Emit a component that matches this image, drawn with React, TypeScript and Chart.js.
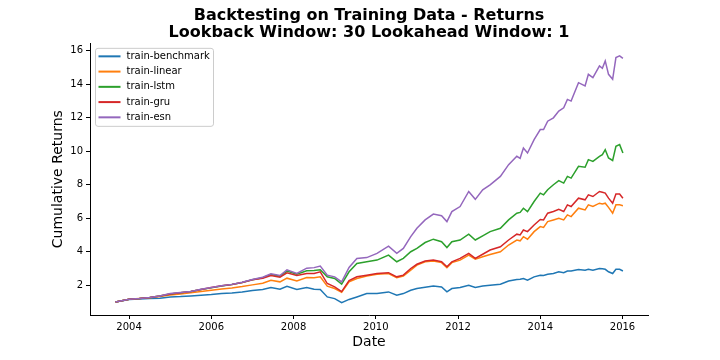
import React, { useEffect, useRef } from "react";
import { Chart, registerables } from "chart.js";

Chart.register(...registerables);

// Dates as decimal years (approximate sampling of the monthly series)
const dates = [
  2003.67, 2004.0, 2004.25, 2004.5, 2004.75, 2005.0, 2005.25, 2005.5, 2005.75, 2006.0,
  2006.25, 2006.5, 2006.75, 2007.0, 2007.25, 2007.45, 2007.67, 2007.84, 2008.08, 2008.32,
  2008.5, 2008.65, 2008.82, 2009.0, 2009.17, 2009.35, 2009.54, 2009.78, 2010.03, 2010.31,
  2010.51, 2010.67, 2010.85, 2011.0, 2011.2, 2011.4, 2011.6, 2011.73, 2011.85, 2012.05,
  2012.26, 2012.42, 2012.6, 2012.78, 2013.03, 2013.23, 2013.43, 2013.51, 2013.59, 2013.69,
  2013.85, 2014.0, 2014.08, 2014.18, 2014.32, 2014.45, 2014.57, 2014.66, 2014.75, 2014.93,
  2015.09, 2015.17, 2015.28, 2015.44, 2015.51, 2015.58, 2015.66, 2015.76, 2015.84, 2015.93,
  2016.01,
];

const trainBenchmark = [
  1.0, 1.15, 1.18, 1.2, 1.22, 1.3, 1.32, 1.36, 1.4, 1.44,
  1.5, 1.54, 1.6, 1.68, 1.74, 1.86, 1.76, 1.94, 1.75, 1.86,
  1.76, 1.74, 1.3, 1.2, 0.96, 1.15, 1.3, 1.5, 1.5, 1.6,
  1.4, 1.5, 1.7, 1.8, 1.88, 1.95, 1.9, 1.6, 1.8, 1.86,
  2.0, 1.86, 1.95, 2.0, 2.06, 2.25, 2.34, 2.36, 2.4, 2.3,
  2.5, 2.6, 2.58, 2.65, 2.7, 2.8, 2.75, 2.85, 2.85, 2.94,
  2.9, 2.95, 2.9, 3.0, 2.98, 2.95, 2.8, 2.7, 2.95, 2.95,
  2.85,
];

const trainLinear = [
  1.0, 1.16, 1.2, 1.25, 1.32, 1.42, 1.48, 1.55, 1.62, 1.7,
  1.78, 1.84, 1.92, 2.02, 2.12, 2.3, 2.2, 2.42, 2.26, 2.46,
  2.44, 2.5, 1.94, 1.8, 1.58, 2.2, 2.4, 2.55, 2.65, 2.7,
  2.45, 2.55, 2.9, 3.2, 3.4, 3.45, 3.35, 3.05, 3.35, 3.5,
  3.8, 3.55, 3.7, 3.83, 4.0, 4.4, 4.7, 4.65, 4.9, 4.75,
  5.2, 5.5, 5.45, 5.8, 5.9, 6.0, 5.9, 6.2, 6.1, 6.6,
  6.5, 6.8, 6.7, 6.9, 6.85, 6.9, 6.65, 6.3, 6.8, 6.8,
  6.75,
];

const trainLstm = [
  1.0, 1.16, 1.2, 1.26, 1.35, 1.48, 1.55, 1.62, 1.74, 1.84,
  1.95, 2.04, 2.16, 2.32, 2.45, 2.64, 2.54, 2.84, 2.66, 2.86,
  2.88, 2.92, 2.5, 2.4, 2.06, 2.8, 3.3, 3.4, 3.5, 3.8,
  3.4, 3.6, 4.0, 4.2, 4.55, 4.75, 4.6, 4.25, 4.6, 4.7,
  5.05, 4.7, 4.95, 5.2, 5.4, 5.9, 6.3, 6.35, 6.6, 6.4,
  7.0, 7.5, 7.4, 7.7, 8.0, 8.25, 8.1, 8.5, 8.4, 9.1,
  9.05, 9.5, 9.4, 9.7, 9.8, 10.1, 9.6, 9.45, 10.3, 10.4,
  9.9,
];

const trainGru = [
  1.0, 1.16, 1.2, 1.26, 1.35, 1.48, 1.55, 1.62, 1.74, 1.86,
  1.97, 2.04, 2.16, 2.32, 2.42, 2.58, 2.48, 2.74, 2.58, 2.7,
  2.7, 2.8, 2.1, 1.9, 1.62, 2.28, 2.5, 2.6, 2.7, 2.75,
  2.5, 2.6, 3.0, 3.25, 3.45, 3.5, 3.4, 3.1, 3.4, 3.6,
  3.9, 3.6, 3.85, 4.1, 4.3, 4.7, 5.05, 5.0, 5.3, 5.2,
  5.6, 5.93, 5.9, 6.3, 6.4, 6.53, 6.4, 6.8, 6.7, 7.2,
  7.1, 7.4, 7.3, 7.6, 7.55, 7.5, 7.2, 6.9, 7.45, 7.45,
  7.2,
];

const trainEsn = [
  1.0, 1.16, 1.2, 1.26, 1.36, 1.5, 1.56, 1.62, 1.76, 1.86,
  1.97, 2.05, 2.18, 2.34, 2.48, 2.68, 2.58, 2.92, 2.7, 3.02,
  3.05, 3.14, 2.6, 2.5, 2.2, 3.06, 3.6, 3.65, 3.9, 4.33,
  3.9, 4.2, 4.9, 5.4, 5.9, 6.25, 6.15, 5.8, 6.4, 6.7,
  7.6, 7.13, 7.7, 8.0, 8.5, 9.2, 9.7, 9.58, 10.2, 9.9,
  10.7, 11.3, 11.3, 11.8, 12.0, 12.4, 12.6, 13.1, 13.0, 14.1,
  13.9, 14.6, 14.4, 15.1, 14.96, 15.4, 14.6, 14.3, 15.6, 15.7,
  15.55,
];

const seriesNames = ["train-benchmark", "train-linear", "train-lstm", "train-gru", "train-esn"];
const seriesValues = [trainBenchmark, trainLinear, trainLstm, trainGru, trainEsn];
const seriesColors = ["#1f77b4", "#ff7f0e", "#2ca02c", "#d62728", "#9467bd"];

const xTickValues = [2004, 2006, 2008, 2010, 2012, 2014, 2016];
const yTickValues = [2, 4, 6, 8, 10, 12, 14, 16];

const titleLines = [
  "Backtesting on Training Data - Returns",
  "Lookback Window: 30 Lookahead Window: 1",
];

const FONT = "'DejaVu Sans', sans-serif";

const insideLegend = {
  id: "insideLegend",
  afterDatasetsDraw(chart: any) {
    const ctx = chart.ctx as CanvasRenderingContext2D;
    const a = chart.chartArea;
    const x0 = a.left + 5.5;
    const y0 = a.top + 5;
    const w = 118;
    const h = 78;
    const r = 2.5;
    ctx.save();
    ctx.beginPath();
    ctx.moveTo(x0 + r, y0);
    ctx.lineTo(x0 + w - r, y0);
    ctx.quadraticCurveTo(x0 + w, y0, x0 + w, y0 + r);
    ctx.lineTo(x0 + w, y0 + h - r);
    ctx.quadraticCurveTo(x0 + w, y0 + h, x0 + w - r, y0 + h);
    ctx.lineTo(x0 + r, y0 + h);
    ctx.quadraticCurveTo(x0, y0 + h, x0, y0 + h - r);
    ctx.lineTo(x0, y0 + r);
    ctx.quadraticCurveTo(x0, y0, x0 + r, y0);
    ctx.closePath();
    ctx.fillStyle = "rgba(255,255,255,0.8)";
    ctx.fill();
    ctx.strokeStyle = "#cccccc";
    ctx.lineWidth = 1;
    ctx.stroke();
    ctx.font = `10px ${FONT}`;
    ctx.textBaseline = "middle";
    ctx.textAlign = "left";
    seriesNames.forEach((name, i) => {
      const y = y0 + 8 + i * 15.25;
      ctx.strokeStyle = seriesColors[i];
      ctx.lineWidth = 2;
      ctx.beginPath();
      ctx.moveTo(x0 + 3, y);
      ctx.lineTo(x0 + 25, y);
      ctx.stroke();
      ctx.fillStyle = "#000";
      ctx.fillText(name, x0 + 31, y);
    });
    ctx.restore();
  },
};

export default function App() {
  const canvasRef = useRef<HTMLCanvasElement | null>(null);

  useEffect(() => {
    const canvas = canvasRef.current;
    if (!canvas) return;
    const datasets = seriesNames.map((name, i) => ({
      label: name,
      data: dates.map((d, j) => ({ x: d, y: seriesValues[i][j] })),
      borderColor: seriesColors[i],
      backgroundColor: seriesColors[i],
      borderWidth: 1.5,
      pointRadius: 0,
      tension: 0,
      fill: false,
      order: seriesNames.length - i,
    }));

    const chart = new Chart(canvas, {
      type: "line",
      data: { datasets },
      plugins: [insideLegend],
      options: {
        animation: false,
        responsive: true,
        maintainAspectRatio: false,
        layout: { padding: { left: 0, right: 72, top: 0, bottom: 0 } },
        plugins: {
          legend: { display: false },
          tooltip: { enabled: false },
          title: {
            display: true,
            text: titleLines,
            color: "#000",
            fullSize: false,
            font: { family: FONT, size: 16, weight: "bold", lineHeight: 1.07 },
            padding: { top: 7.4, bottom: 1.7 },
          },
        },
        scales: {
          x: {
            type: "linear",
            min: 2003.05,
            max: 2016.62,
            afterBuildTicks: (scale: any) => {
              scale.ticks = xTickValues.map((v) => ({ value: v }));
            },
            afterFit: (scale: any) => {
              scale.height = 45;
            },
            ticks: {
              color: "#000",
              font: { family: FONT, size: 10 },
              padding: 2,
              maxRotation: 0,
              autoSkip: false,
              callback: (v: any) => String(v),
            },
            grid: { drawOnChartArea: false, drawTicks: true, tickLength: 4, color: "#000" },
            border: { display: true, color: "#000", width: 1 },
            title: {
              display: true,
              text: "Date",
              color: "#000",
              font: { family: FONT, size: 14 },
              padding: { top: 0, bottom: 9 },
            },
          },
          y: {
            type: "linear",
            min: 0.22,
            max: 16.45,
            afterBuildTicks: (scale: any) => {
              scale.ticks = yTickValues.map((v) => ({ value: v }));
            },
            afterFit: (scale: any) => {
              scale.width = 90;
            },
            ticks: {
              color: "#000",
              font: { family: FONT, size: 10 },
              padding: 3,
              autoSkip: false,
              callback: (v: any) => String(v),
            },
            grid: { drawOnChartArea: false, drawTicks: true, tickLength: 4, color: "#000" },
            border: { display: true, color: "#000", width: 1 },
            title: {
              display: true,
              text: "Cumulative Returns",
              color: "#000",
              font: { family: FONT, size: 14 },
              padding: { top: 50, bottom: 0 },
            },
          },
        },
      },
    });
    return () => chart.destroy();
  }, []);

  return (
    <div style={{ position: "absolute", left: 0, top: 0, width: 720, height: 360 }}>
      <canvas ref={canvasRef} />
    </div>
  );
}
